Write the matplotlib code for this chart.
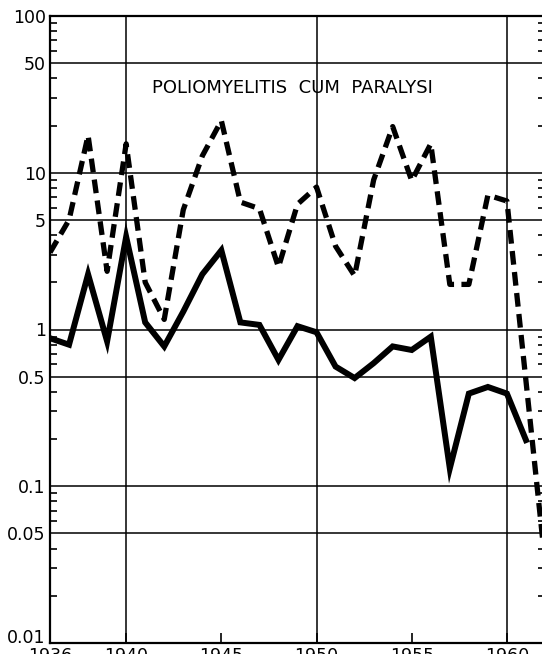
import numpy as np
import matplotlib.pyplot as plt
import matplotlib.transforms as mtransforms
from matplotlib.ticker import FixedLocator, NullFormatter

# values (log scale)
years = list(range(1936, 1963))
dashed_vals = [3.1, 5.0, 17.3, 2.35, 15.3, 2.0, 1.16, 5.8, 12.8, 21.5, 6.5, 5.9,
               2.5, 6.3, 8.1, 3.4, 2.2, 9.0, 19.7, 8.9, 15.3, 1.94, 1.94, 7.2,
               6.6, 0.47, 0.033]
solid_years = list(range(1936, 1962))
solid_vals = [0.88, 0.80, 2.25, 0.84, 3.9, 1.11, 0.78, 1.3, 2.25, 3.2, 1.11, 1.07,
              0.64, 1.05, 0.96, 0.58, 0.49, 0.61, 0.78, 0.74, 0.9, 0.13, 0.39,
              0.43, 0.39, 0.197]

ytick_vals = [0.01, 0.05, 0.1, 0.5, 1, 5, 10, 50, 100]
ytick_labels = ["0.01", "0.05", "0.1", "0.5", "1", "5", "10", "50", "100"]
xtick_vals = [1936, 1940, 1945, 1950, 1955, 1960]
vlines = [1940, 1950, 1960]

fig = plt.figure(figsize=(5.42, 6.54), dpi=100)
ax = fig.add_axes([50 / 542, 11 / 654, 495 / 542, 627 / 654])

ax.set_yscale('log')
ax.set_xlim(1936, 1962)
ax.set_ylim(0.01, 100)

# grid lines like the printed chart
for v in ytick_vals[1:-1]:
    ax.axhline(v, color='black', lw=1.1, zorder=1)
for v in vlines:
    ax.axvline(v, color='black', lw=1.1, zorder=1)

ax.plot(years, dashed_vals, color='black', lw=3.8, dashes=(2.6, 1.4),
        solid_capstyle='butt', zorder=3)
ax.plot(solid_years, solid_vals, color='black', lw=4.3, solid_joinstyle='miter',
        zorder=3)

ax.text(0.49, 0.885, "POLIOMYELITIS  CUM  PARALYSI", transform=ax.transAxes,
        ha='center', va='center', fontsize=13, family='DejaVu Sans')

ax.yaxis.set_major_locator(FixedLocator(ytick_vals))
ax.set_yticklabels(ytick_labels)
minors = []
for d in [0.01, 0.1, 1, 10]:
    for m in [2, 3, 4, 6, 7, 8, 9]:
        minors.append(d * m)
ax.yaxis.set_minor_locator(FixedLocator(minors))
ax.yaxis.set_minor_formatter(NullFormatter())
ax.tick_params(axis='y', which='major', length=0, pad=3, labelsize=12.5)
ax.tick_params(axis='y', which='minor', direction='in', length=5, width=1.2,
               left=True, right=True)

ax.set_xticks(xtick_vals)
ax.set_xticklabels([str(x) for x in xtick_vals])
ax.tick_params(axis='x', which='major', direction='in', length=7, width=1.2,
               pad=3, labelsize=12.5)

# the 0.01 label sits a little above the bottom line in the original
lab = ax.get_yticklabels()[0]
lab.set_transform(lab.get_transform() +
                  mtransforms.ScaledTranslation(0, 5 / 72, fig.dpi_scale_trans))

for s in ['left', 'bottom', 'top']:
    ax.spines[s].set_linewidth(1.6)
ax.spines['right'].set_visible(False)

fig.savefig('out.png', dpi=100)
